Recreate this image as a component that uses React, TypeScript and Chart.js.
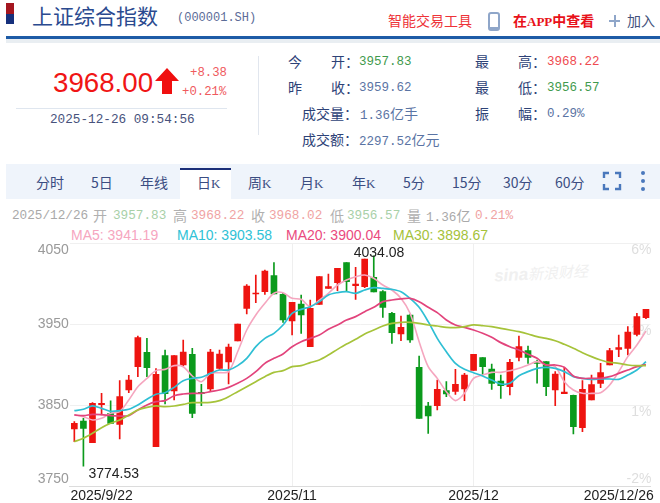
import React, { useEffect, useRef } from "react";
import { Chart, registerables } from "chart.js";

Chart.register(...registerables);

const dates = [
  "2025/9/22","2025/9/23","2025/9/24","2025/9/25","2025/9/26","2025/9/29","2025/9/30",
  "2025/10/9","2025/10/10","2025/10/13","2025/10/14","2025/10/15","2025/10/16","2025/10/17",
  "2025/10/20","2025/10/21","2025/10/22","2025/10/23","2025/10/24",
  "2025/10/27","2025/10/28","2025/10/29","2025/10/30","2025/10/31",
  "2025/11/3","2025/11/4","2025/11/5","2025/11/6","2025/11/7",
  "2025/11/10","2025/11/11","2025/11/12","2025/11/13","2025/11/14",
  "2025/11/17","2025/11/18","2025/11/19","2025/11/20","2025/11/21",
  "2025/11/24","2025/11/25","2025/11/26","2025/11/27","2025/11/28",
  "2025/12/1","2025/12/2","2025/12/3","2025/12/4","2025/12/5",
  "2025/12/8","2025/12/9","2025/12/10","2025/12/11","2025/12/12",
  "2025/12/15","2025/12/16","2025/12/17","2025/12/18","2025/12/19",
  "2025/12/22","2025/12/23","2025/12/24","2025/12/25","2025/12/26",
];

const opens = [
  3820.4,3830.2,3803.5,3850.4,3839.7,3826.1,3868.5,3897.3,3915,3798.6,3910.9,3867.3,3899.4,3912.6,3865.6,3869.8,
  3895.3,3903.1,3929,3969.3,3987,3989.9,4009.7,3986.6,3953.7,3974.7,3922,3974.3,3994,4001,4025.7,3997.3,
  3996.1,4007.6,3989.9,3963.2,3937.7,3961.1,3896.5,3848.8,3849.2,3867.7,3866.9,3869.8,3892.8,3908.4,3894.4,3879.6,
  3872.6,3908.8,3917.1,3903.1,3903.5,3868.5,3864,3861.9,3822,3856.2,3876.7,3899.4,3918.7,3920,3937.2,3957.83,
];
const highs = [
  3829.4,3833.5,3852.9,3864.4,3855.3,3880,3886.6,3935.2,3932.3,3894.9,3917.9,3911,3930.2,3920,3875.5,3918.7,
  3917.9,3925.3,3950,3998.6,4010.5,4016.7,4025.7,3987.9,3976.7,3985.8,3979.6,4008.4,4011.7,4018.7,4025.7,4020,
  4030.2,4034.08,3991.2,3964.4,3959.9,3962.3,3910.5,3853.3,3880.9,3878.8,3894,3889.1,3912.6,3908.4,3900.6,3887,
  3906.4,3935.2,3922.8,3905.6,3903.5,3891.2,3896.5,3862.3,3880,3887,3901.4,3920,3936.4,3946.7,3963.2,3968.22,
];
const lows = [
  3804.7,3774.53,3803.5,3837.7,3827,3808,3865.2,3885,3885,3798.6,3851.2,3856.2,3898.1,3834.4,3849.2,3866.5,
  3894,3875.9,3929,3962.3,3976.3,3986.6,3987,3952.1,3936.4,3938.5,3922,3974.3,3994,3991.2,3991.2,3980.5,
  3994.9,3989.5,3958.2,3926.1,3929.4,3927.4,3833.5,3815,3843.8,3860.3,3863.2,3855.3,3892.8,3887,3869.3,3858.2,
  3862.3,3904.3,3901.4,3877,3861.5,3849.2,3864,3814.2,3817,3856.2,3871.4,3899.4,3909.7,3911.7,3935.2,3956.57,
];
const closes = [
  3827.4,3821.2,3852.1,3852.1,3827.4,3860.3,3880.9,3933.1,3896.1,3887.9,3864,3910.9,3915.4,3839.7,3864,3915.4,
  3913,3921.6,3950,3996.9,3988.3,4015.4,3987,3954.9,3976.7,3961.1,3969.3,4008.4,3996.1,4018.7,4002.3,3999.4,
  4030.2,3989.5,3970.6,3939.3,3945.9,3930.2,3833.5,3836.4,3869.3,3863.6,3875.5,3887,3912.6,3897.3,3876.7,3873.9,
  3902.7,3922,3908.8,3901.4,3872.6,3888.3,3866,3823.3,3869.3,3875.1,3889.9,3917.1,3920.8,3940.1,3959.1,3968.02,
];

const ma5 = [
  3837.7,3835.6,3831.5,3833.5,3839.7,3841.8,3856.2,3872.6,3882.9,3892.4,3894,3898.6,3897.3,3885.8,3878.8,3889.1,
  3889.9,3891.2,3915.8,3942.6,3961.1,3975.5,3987.9,3988.7,3981.7,3980.5,3971.4,3979.6,3987.9,3998.1,4004.3,4008.4,
  4010.5,4006.4,3998.1,3992,3981.7,3963.2,3928.2,3897.3,3882.9,3866.5,3855.4,3864.4,3882.9,3887,3890.3,3890.3,
  3892.4,3895.3,3899.4,3903.5,3899.4,3897.3,3878.8,3868.5,3864.4,3864.4,3865.2,3874.7,3891.2,3909.7,3924.1,3941.19,
];
const ma10 = [
  3843,3844.7,3848.8,3845.9,3842.2,3843,3844.7,3850,3857,3863.2,3865.2,3871.8,3880,3882.9,3884.2,3889.1,
  3893.2,3893.2,3898.6,3907.6,3922,3932.3,3938.5,3948.8,3963.2,3968.1,3971.4,3977.6,3985.8,3988.7,3989.9,3987.9,
  3992,3994.9,3994,3992.8,3989.9,3981.7,3970.6,3952.9,3932.3,3915.8,3901.4,3894,3889.9,3885.8,3880.9,3875.9,
  3876.8,3886.2,3891.2,3895.3,3896.5,3895.3,3891.2,3885,3882.9,3881.7,3882.1,3882.1,3881.7,3887,3893.2,3903.58,
];
const ma20 = [
  3837.7,3836.8,3838.5,3838.1,3836.8,3836.4,3836.8,3843.8,3850,3854.1,3855.4,3861.5,3863.6,3864.4,3864.4,3866.5,
  3868.5,3871.8,3876.8,3882.9,3891.2,3901.4,3907.6,3913,3922,3928.2,3932.3,3936.4,3943.4,3948.8,3954.9,3959.1,
  3965.2,3970.6,3977.6,3979.6,3980.9,3981.7,3977.6,3970.6,3964,3954.9,3948.8,3945.9,3942.6,3938.5,3933.5,3927,
  3922,3917.9,3912.6,3907.6,3899.4,3899.4,3896.5,3885.8,3882.9,3882.9,3882.9,3885,3889.1,3893.2,3897.3,3900.04,
];
const ma30 = [
  3804.7,3808.9,3815,3822,3827.4,3831.5,3837.7,3843.8,3847.1,3848.8,3848,3848.8,3850.8,3852.9,3852.9,3853.3,
  3855.4,3860.3,3866.5,3872.6,3878.8,3885,3890.3,3892.4,3897.3,3898.6,3902.3,3905.6,3911.7,3918.7,3925.3,3931.1,
  3937.7,3942.6,3947.5,3950.8,3952.1,3952.1,3950.8,3948.8,3947.5,3945.9,3945.5,3946.7,3948.8,3947.9,3946.7,3944.7,
  3942.6,3940.5,3937.7,3934.4,3932.3,3929.4,3924.9,3920,3914.6,3909.7,3905.6,3902.7,3901.4,3899.4,3898.6,3898.67,
];

const priceTicks = [3750, 3850, 3950, 4050];
const percentTicks = ["-2%", "1%", "3%", "6%"];
const axisDates = ["2025/9/22", "2025/11", "2025/12", "2025/12/26"];
const axisDateSlots = [3, 24, 44, 60];
const monthStarts = ["2025/11/3", "2025/12/1"];

const RED = "#ee1410";
const GREEN = "#0b9a1c";
const NAVY = "#2d4277";
const CJK = '"Noto Sans CJK SC", sans-serif';
const MONO = '"Liberation Mono", "Noto Sans CJK SC", monospace';
const SANS = '"Liberation Sans", Arial, sans-serif';

const T = ({ x, y, s = 14, c = NAVY, f = CJK, w = 400, children }: any) => (
  <div
    style={{
      position: "absolute",
      left: x,
      top: y,
      transform: "translateY(-50%)",
      fontSize: s,
      color: c,
      fontFamily: f,
      fontWeight: w,
      lineHeight: 1,
      whiteSpace: "pre",
    }}
  >
    {children}
  </div>
);
const Box = ({ x, y, w, h, c, extra }: any) => (
  <div style={{ position: "absolute", left: x, top: y, width: w, height: h, background: c, ...extra }} />
);

const tabs: [string, string, number][] = [
  ["分时", "", 36], ["5", "日", 91], ["年线", "", 140], ["日", "K", 197], ["周", "K", 248], ["月", "K", 300],
  ["年", "K", 352], ["5", "分", 403], ["15", "分", 452], ["30", "分", 503], ["60", "分", 555],
];

const markers = {
  id: "markers",
  afterDatasetsDraw(chart: any) {
    const { ctx, scales } = chart;
    const hi = highs.indexOf(Math.max(...highs));
    const lo = lows.indexOf(Math.min(...lows));
    ctx.save();
    ctx.fillStyle = "#222";
    ctx.font = '14px "Liberation Sans"';
    ctx.textAlign = "left";
    ctx.textBaseline = "middle";
    ctx.fillText(highs[hi].toFixed(2), scales.x.getPixelForValue(hi) - 20, scales.y.getPixelForValue(highs[hi]) - 3);
    ctx.fillText(lows[lo].toFixed(2), scales.x.getPixelForValue(lo) + 5, scales.y.getPixelForValue(lows[lo]) + 8);
    ctx.restore();
  },
};

export default function App() {
  const ref = useRef<HTMLCanvasElement>(null);
  useEffect(() => {
    const colors = opens.map((o, i) => (closes[i] >= o ? RED : GREEN));
    const maLine = (label: string, data: number[], color: string, width: number) => ({
      type: "line" as const,
      label,
      data,
      borderColor: color,
      borderWidth: width,
      pointRadius: 0,
      tension: 0.3,
      order: 0,
    });
    const chart = new Chart(ref.current as HTMLCanvasElement, {
      type: "bar",
      data: {
        labels: dates,
        datasets: [
          maLine("MA30", ma30, "#a6c33a", 1.7),
          maLine("MA20", ma20, "#e2447c", 1.7),
          maLine("MA10", ma10, "#2fbfd4", 1.7),
          maLine("MA5", ma5, "#f5a6bf", 1.6),
          {
            label: "K",
            data: opens.map((o, i) => [o, closes[i]]),
            backgroundColor: colors,
            barThickness: 6,
            grouped: false,
            order: 1,
          },
          {
            label: "HL",
            data: lows.map((l, i) => [l, highs[i]]),
            backgroundColor: colors,
            barThickness: 1,
            grouped: false,
            order: 2,
          },
        ] as any,
      },
      options: {
        responsive: false,
        animation: false,
        layout: { padding: { left: 0, right: 9.5, top: 243, bottom: 0 } },
        plugins: { legend: { display: false }, tooltip: { enabled: false } },
        scales: {
          x: {
            type: "category",
            offset: true,
            border: { color: "#dcdcdc" },
            grid: {
              offset: false,
              drawTicks: false,
              color: (c: any) =>
                monthStarts.includes(dates[c.index]) ? "#efefef" : "rgba(0,0,0,0)",
            },
            ticks: {
              autoSkip: false,
              maxRotation: 0,
              minRotation: 0,
              padding: 3,
              color: "#222",
              font: { family: "Liberation Sans", size: 14, lineHeight: 1 },
              callback: (_v: any, i: number) => {
                const k = axisDateSlots.indexOf(i);
                return k >= 0 ? axisDates[k] : "";
              },
            },
            afterFit: (s: any) => { s.height = 17; s.paddingLeft = 0; s.paddingRight = 0; },
          },
          y: {
            type: "linear",
            position: "left",
            min: 3750,
            max: 4050,
            afterBuildTicks: (s: any) => { s.ticks = priceTicks.map((value) => ({ value })); },
            border: { display: false },
            grid: { drawTicks: false, color: "#f0f0f0" },
            ticks: {
              padding: 1,
              color: "#9a9a9a",
              font: { family: "Liberation Sans", size: 14, lineHeight: 1 },
              callback: (v: any) =>
                v === 4050 ? ["", String(v)] : v === 3750 ? [String(v), ""] : String(v),
            },
            afterFit: (s: any) => { s.width = 69.8; },
          },
          pct: {
            type: "linear",
            position: "right",
            min: 3750,
            max: 4050,
            afterBuildTicks: (s: any) => { s.ticks = priceTicks.map((value) => ({ value })); },
            border: { display: false },
            grid: { display: false },
            ticks: {
              mirror: true,
              padding: 1,
              color: "#dedede",
              font: { family: "Liberation Sans", size: 14, lineHeight: 1 },
              callback: (v: any) => {
                const p = percentTicks[priceTicks.indexOf(v)];
                return v === 3750 ? [p, ""] : ["", p];
              },
            },
            afterFit: (s: any) => { s.width = 0; },
          },
        },
      } as any,
      plugins: [markers],
    });
    return () => chart.destroy();
  }, []);

  return (
    <div style={{ position: "fixed", left: 0, top: 0, width: 660, height: 503, background: "#fff", overflow: "hidden" }}>
      {/* title bar */}
      <Box x={6} y={3} w={8} h={11} c="#a4161f" />
      <Box x={6} y={14} w={8} h={10} c="#16307c" />
      <T x={32} y={15} s={21} c="#2a4a8f">上证综合指数</T>
      <T x={177} y={18} s={12} c="#5c6c98" f={MONO}>(000001.SH)</T>
      <T x={388} y={20} s={14} c="#ee3338">智能交易工具</T>
      <div style={{ position: "absolute", left: 488, top: 12, width: 8, height: 13, border: "2px solid #8fa6c9", borderBottomWidth: 4, borderRadius: 3 }} />
      <T x={513} y={20} s={14} c="#e8121a" w={700}>在<span style={{ fontFamily: '"Liberation Serif"', fontSize: 13 }}>APP</span>中查看</T>
      <Box x={609} y={20} w={11} h={2} c="#8fa6c9" />
      <Box x={614} y={15} w={2} h={12} c="#8fa6c9" />
      <T x={627} y={20} s={14} c="#44527c">加入</T>
      <Box x={6} y={36} w={654} h={3} c="#1d5ba6" />
      <Box x={6} y={39} w={654} h={4} c="#e9eef2" />

      {/* quote */}
      <T x={53} y={83} s={27.7} c="#f01515" f={SANS}>3968.00</T>
      <svg style={{ position: "absolute", left: 154, top: 67 }} width={26} height={28}>
        <path d="M13 1 L25 14 L18 14 L18 27 L8 27 L8 14 L1 14 Z" fill="#f00f0f" />
      </svg>
      <T x={190} y={73} s={12.3} c="#ef5a5e" f={MONO}>+8.38</T>
      <T x={182} y={92} s={12.3} c="#ef5a5e" f={MONO}>+0.21%</T>
      <Box x={16} y={108} w={211} h={1} c="#dfe6ef" />
      <T x={50} y={120} s={12.7} c="#47527c" f={MONO}>2025-12-26 09:54:56</T>
      <Box x={258} y={56} w={1} h={79} c="#e1e6ee" />

      <T x={288} y={61}>今</T><T x={331} y={61}>开：</T>
      <T x={359} y={62} s={12.5} c="#3f9a4d" f={MONO}>3957.83</T>
      <T x={288} y={87}>昨</T><T x={331} y={87}>收：</T>
      <T x={359} y={88} s={12.5} c="#5a74a4" f={MONO}>3959.62</T>
      <T x={302} y={113}>成交量：</T>
      <T x={360} y={114} s={12.5} c="#5a74a4" f={MONO}>1.36<span style={{ fontFamily: CJK, fontSize: 14 }}>亿手</span></T>
      <T x={302} y={139}>成交额：</T>
      <T x={359} y={140} s={12.5} c="#5a74a4" f={MONO}>2297.52<span style={{ fontFamily: CJK, fontSize: 14 }}>亿元</span></T>
      <T x={475} y={61}>最</T><T x={518} y={61}>高：</T>
      <T x={547} y={62} s={12.5} c="#ef4a50" f={MONO}>3968.22</T>
      <T x={475} y={87}>最</T><T x={518} y={87}>低：</T>
      <T x={547} y={88} s={12.5} c="#3f9a4d" f={MONO}>3956.57</T>
      <T x={475} y={113}>振</T><T x={518} y={113}>幅：</T>
      <T x={547} y={114} s={12.5} c="#5a74a4" f={MONO}>0.29%</T>

      {/* period tabs */}
      <Box x={6} y={164} w={654} h={35} c="#eff4fb" />
      <Box x={180} y={168} w={51} h={31} c="#fff" extra={{ borderTop: "2px solid #1b2f78", boxSizing: "border-box" }} />
      {tabs.map(([a, b, x]) => (
        <T key={a + b + x} x={x} y={182} s={14} c="#3b4d82">
          {a}
          {b === "K" ? <span style={{ fontFamily: '"Liberation Serif"', fontSize: 13 }}>K</span> : b}
        </T>
      ))}
      <svg style={{ position: "absolute", left: 602, top: 171 }} width={20} height={20}>
        <path d="M2 7 V2 H7 M13 2 H18 V7 M18 13 V18 H13 M7 18 H2 V13" fill="none" stroke="#4a78bc" strokeWidth={2.4} />
      </svg>
      <Box x={641} y={171} w={4} h={4} c="#4a78bc" extra={{ borderRadius: 2 }} />
      <Box x={641} y={179} w={4} h={4} c="#4a78bc" extra={{ borderRadius: 2 }} />
      <Box x={641} y={187} w={4} h={4} c="#4a78bc" extra={{ borderRadius: 2 }} />

      {/* hovered day readout */}
      <T x={12} y={216} s={12.7} c="#a9a9a9" f={MONO}>2025/12/26</T>
      <T x={93} y={215} c="#b0b0b0">开</T>
      <T x={113} y={216} s={12.7} c="#a8d0a8" f={MONO}>3957.83</T>
      <T x={173} y={215} c="#b0b0b0">高</T>
      <T x={191} y={216} s={12.7} c="#f0a3a3" f={MONO}>3968.22</T>
      <T x={251} y={215} c="#b0b0b0">收</T>
      <T x={269} y={216} s={12.7} c="#f0a3a3" f={MONO}>3968.02</T>
      <T x={330} y={215} c="#b0b0b0">低</T>
      <T x={347} y={216} s={12.7} c="#a8d0a8" f={MONO}>3956.57</T>
      <T x={407} y={215} c="#b0b0b0">量</T>
      <T x={426} y={216} s={12.7} c="#a9a9a9" f={MONO}>1.36<span style={{ fontFamily: CJK, fontSize: 14 }}>亿</span></T>
      <T x={475} y={216} s={12.7} c="#f0a3a3" f={MONO}>0.21%</T>

      <T x={71} y={235} s={14} c="#f6a6bf" f={SANS}>MA5: 3941.19</T>
      <T x={177} y={235} s={14} c="#30c2d6" f={SANS}>MA10: 3903.58</T>
      <T x={286} y={235} s={14} c="#ea4a80" f={SANS}>MA20: 3900.04</T>
      <T x={393} y={235} s={14} c="#a5c23a" f={SANS}>MA30: 3898.67</T>

      {/* watermark */}
      <div style={{ position: "absolute", left: 494, top: 262, fontFamily: SANS, fontStyle: "italic", fontWeight: 700, fontSize: 17, color: "#f0f0f0", whiteSpace: "pre", transform: "rotate(-3deg)" }}>
        sina<span style={{ fontFamily: CJK, fontWeight: 400, fontSize: 15 }}>新浪财经</span>
      </div>

      <canvas ref={ref} width={660} height={503} style={{ position: "absolute", left: 0, top: 0, display: "block" }} />
    </div>
  );
}
